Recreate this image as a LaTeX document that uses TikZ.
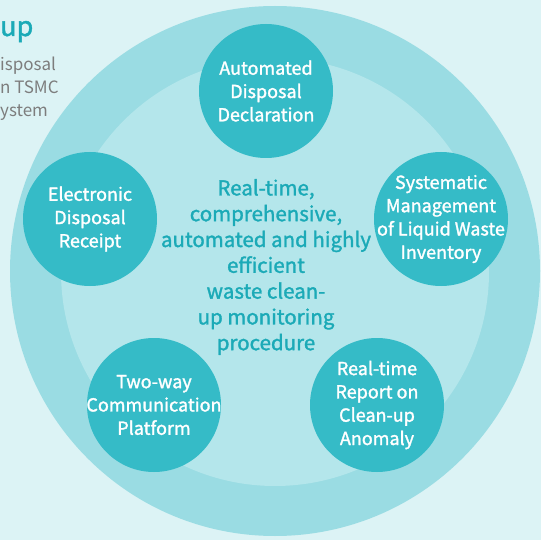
\documentclass[tikz,border=0pt]{standalone}
\usepackage{fontspec}
\setmainfont{Noto Sans CJK SC}
\newfontfamily\medfont{Noto Sans CJK SC}[RawFeature={embolden=1.5}]
\usetikzlibrary{positioning}
\definecolor{pagebg}{RGB}{220,243,245}
\definecolor{ringouter}{RGB}{154,220,227}
\definecolor{ringinner}{RGB}{180,230,235}
\definecolor{stepteal}{RGB}{53,187,199}
\definecolor{hubtext}{RGB}{27,170,183}
\definecolor{greytext}{RGB}{125,125,125}

\tikzset{
    stepcircle/.style={circle, fill=stepteal, minimum size=134pt, inner sep=0pt},
    steptext/.style={inner sep=0pt, text=white, align=center, font=\medfont\fontsize{18}{23.3}\selectfont},
    sidenote/.style={anchor=base west, inner sep=0pt, text=greytext, font=\fontsize{17}{23}\selectfont},
}

\begin{document}
\begin{tikzpicture}[x=1pt, y=-1pt]
    % page and rings
    \fill[pagebg] (0,0) rectangle (541,540);
    \useasboundingbox (0,0) rectangle (541,540);
    \fill[ringouter] (275,271) circle (265);
    \fill[ringinner] (275,272) circle (214);

    % side text at the left edge
    \node[anchor=base west, inner sep=0pt, text=hubtext, font=\medfont\fontsize{27}{30}\selectfont] (title) at (0,36) {up};
    \node[sidenote] (note1) at (0,71) {isposal};
    \node[sidenote] (note2) at (0,94) {n TSMC};
    \node[sidenote] (note3) at (0,117) {ystem};

    % hub text
    \node[align=center, text=hubtext, font=\medfont\fontsize{20.5}{25.8}\selectfont] (hub) at (266,267) {
        Real-time,\\ comprehensive,\\ automated and highly\\ efficient\\ waste clean-\\ up monitoring\\ procedure};

    % five steps
    \node[stepcircle, label={[steptext]center:{Automated\\ Disposal\\ Declaration}}] (declare) at (266,91) {};
    \node[stepcircle, label={[steptext]center:{Systematic\\ Management\\ of Liquid Waste\\ Inventory}}] (inventory) at (441,219) {};
    \node[stepcircle, label={[steptext]center:{Real-time\\ Report on\\ Clean-up\\ Anomaly}}] (anomaly) at (377,405) {};
    \node[stepcircle, label={[steptext]center:{Two-way\\ Communication\\ Platform}}] (platform) at (154,405) {};
    \node[stepcircle, label={[steptext]center:{Electronic\\ Disposal\\ Receipt}}] (receipt) at (90,219) {};
\end{tikzpicture}
\end{document}
